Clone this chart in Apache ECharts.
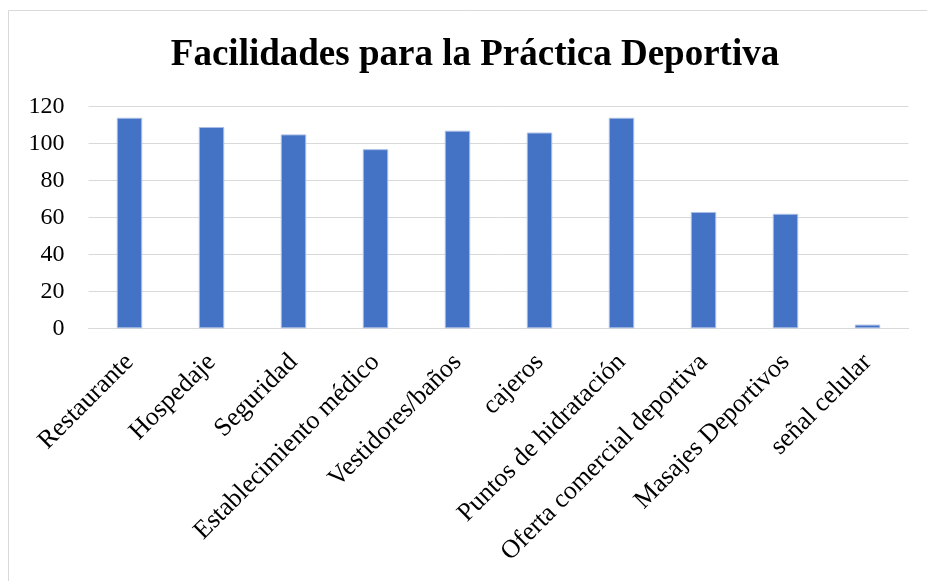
<!DOCTYPE html>
<html>
<head>
<meta charset="utf-8">
<script src="https://cdn.jsdelivr.net/npm/echarts@6/dist/echarts.min.js"></script>
<style>
html, body { margin: 0; padding: 0; background: #fff; }
#chart { width: 927px; height: 581px; }
</style>
</head>
<body>
<div id="chart"></div>
<script>
var categories = ["Restaurante", "Hospedaje", "Seguridad", "Establecimiento médico", "Vestidores/baños",
    "cajeros", "Puntos de hidratación", "Oferta comercial deportiva", "Masajes Deportivos", "señal celular"];
var values = [114, 109, 105, 97, 107, 106, 114, 63, 62, 2];
var yTicks = [0, 20, 40, 60, 80, 100, 120];

var fontFamily = '"Liberation Serif", "Times New Roman", serif';
var chart = echarts.init(document.getElementById("chart"));

var option = {
    backgroundColor: "#fff",
    animation: false,
    title: {
        text: "Facilidades para la Práctica Deportiva",
        left: 470,
        textAlign: "center",
        top: 32,
        textStyle: { fontFamily: fontFamily, fontSize: 37, fontWeight: "bold", color: "#000" }
    },
    graphic: [{
        type: "rect",
        shape: { x: 8.5, y: 10.5, width: 2000, height: 2000 },
        style: { fill: "none", stroke: "#d9d9d9", lineWidth: 1 },
        silent: true
    }],
    grid: { left: 88.5, right: 18.5, top: 106.7, bottom: 252.7, containLabel: false },
    xAxis: {
        type: "category",
        data: categories,
        axisLine: { lineStyle: { color: "#d9d9d9", width: 1 } },
        axisTick: { show: false },
        axisLabel: {
            rotate: 45,
            interval: 0,
            margin: 30,
            fontFamily: fontFamily,
            fontSize: 26,
            color: "#000"
        }
    },
    yAxis: {
        type: "value",
        min: yTicks[0],
        max: yTicks[yTicks.length - 1],
        interval: 20,
        axisLine: { show: false },
        axisTick: { show: false },
        splitLine: { lineStyle: { color: "#d9d9d9", width: 1 } },
        axisLabel: {
            margin: 24,
            fontFamily: fontFamily,
            fontSize: 24,
            color: "#000"
        }
    },
    series: [{
        type: "bar",
        data: values,
        barWidth: "31%",
        itemStyle: { color: "#4472c4", borderColor: "#a9bde6", borderWidth: 1 }
    }]
};
chart.setOption(option);
</script>
</body>
</html>
